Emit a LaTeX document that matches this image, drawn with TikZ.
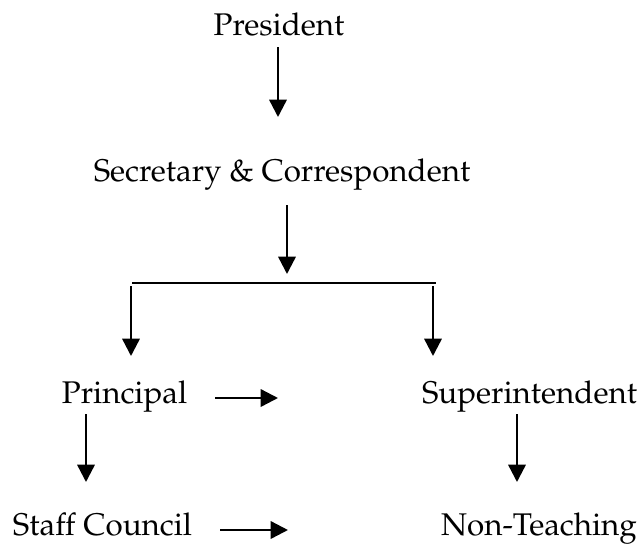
\documentclass[tikz,border=0pt]{standalone}
\usepackage[T1]{fontenc}
\usepackage{mathpazo}
\usetikzlibrary{arrows.meta}
\tikzstyle{arrow} = [line width=1.8pt, -{Triangle[length=13pt,width=13pt]}]
\tikzstyle{title} = [font=\fontsize{23.5}{28}\selectfont, inner sep=0pt, anchor=base]

\begin{document}
\begin{tikzpicture}[x=0.75pt, y=-0.75pt]
    \useasboundingbox (0,0) rectangle (643,544);

    % Top of the chart
    \node[title] (pres) at (279,35) {President};
    \node[title] (sec) at (282,181) {Secretary \& Correspondent};
    \coordinate (a1s) at (278,47);
    \coordinate (a1e) at (278,117);
    \draw[arrow] (a1s) -- (a1e);

    % Split into two branches
    \coordinate (a2s) at (287,205);
    \coordinate (a2e) at (287,274);
    \draw[arrow] (a2s) -- (a2e);
    \coordinate (barl) at (132,283);
    \coordinate (barr) at (436,283);
    \draw[line width=1pt] (barl) -- (barr);
    \coordinate (a3s) at (131,286);
    \coordinate (a3e) at (131,356);
    \coordinate (a4s) at (433,286);
    \coordinate (a4e) at (433,356);
    \draw[arrow] (a3s) -- (a3e);
    \draw[arrow] (a4s) -- (a4e);

    % Second level
    \node[title] (prin) at (124.5,403) {Principal};
    \node[title] (supt) at (529.5,403) {Superintendent};
    \coordinate (a5s) at (215,398);
    \coordinate (a5e) at (278,398);
    \draw[arrow] (a5s) -- (a5e);

    % Bottom level
    \node[title] (staff) at (102.5,535) {Staff Council};
    \node[title] (nonteach) at (539,535) {Non-Teaching};
    \coordinate (a6s) at (86,414);
    \coordinate (a6e) at (86,482);
    \coordinate (a7s) at (517,414);
    \coordinate (a7e) at (517,482);
    \draw[arrow] (a6s) -- (a6e);
    \draw[arrow] (a7s) -- (a7e);
    \coordinate (a8s) at (220,530);
    \coordinate (a8e) at (288,530);
    \draw[arrow] (a8s) -- (a8e);
\end{tikzpicture}
\end{document}
